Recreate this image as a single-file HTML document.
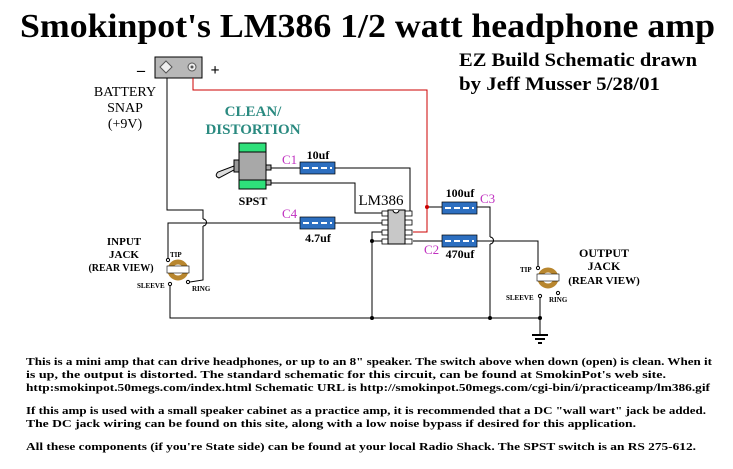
<!DOCTYPE html>
<html><head><meta charset="utf-8"><style>
html,body{margin:0;padding:0;background:#fff;}
svg{display:block;}
text{font-family:"Liberation Serif",serif;font-weight:bold;}
</style></head><body>
<svg width="733" height="469" viewBox="0 0 733 469" xmlns="http://www.w3.org/2000/svg">
<rect width="733" height="469" fill="#fff"/>
<text x="20" y="37" font-size="34" textLength="695" lengthAdjust="spacingAndGlyphs">Smokinpot's LM386 1/2 watt headphone amp</text>
<text x="459" y="66" font-size="19" textLength="238" lengthAdjust="spacingAndGlyphs">EZ Build Schematic drawn</text>
<text x="459" y="90" font-size="19" textLength="201" lengthAdjust="spacingAndGlyphs">by Jeff Musser 5/28/01</text>

<!-- battery -->
<text x="141" y="75" font-size="16" text-anchor="middle" font-family="Liberation Sans">–</text>
<text x="215" y="75" font-size="16" text-anchor="middle" font-family="Liberation Sans">+</text>
<rect x="155" y="57" width="47" height="21" fill="#b8b8b8" stroke="#000"/>
<polygon points="166,61 172,67 166,73 160,67" fill="#eee" stroke="#555"/>
<circle cx="192" cy="67" r="4" fill="#eee" stroke="#555"/><circle cx="192" cy="67" r="1.5" fill="#555"/>
<text x="125" y="96" font-size="14" text-anchor="middle" style="font-weight:normal">BATTERY</text>
<text x="125" y="112" font-size="14" text-anchor="middle" style="font-weight:normal">SNAP</text>
<text x="125" y="128" font-size="14" text-anchor="middle" style="font-weight:normal">(+9V)</text>
<text x="253" y="116" font-size="15" text-anchor="middle" fill="#2a8a80">CLEAN/</text>
<text x="253" y="134" font-size="15" text-anchor="middle" fill="#2a8a80">DISTORTION</text>

<g fill="none" stroke="#000" stroke-width="1">
<polyline points="167,78 167,210 203,210 203,219"/>
<path d="M203,219 a3,3 0 0 1 0,7"/>
<polyline points="203,226 203,280 190,282"/>
<polyline points="168,260 168,223 300,223"/>
<line x1="335" y1="223" x2="382" y2="223"/>
<line x1="269" y1="168" x2="300" y2="168"/>
<polyline points="335,168 410,168 410,213"/>
<polyline points="269,183 355,183 355,213 382,213"/>
<polyline points="382,232 372,232 372,318"/>
<line x1="372" y1="241" x2="382" y2="241"/>
<polyline points="170,285 170,318 540,318"/>
<line x1="540" y1="297" x2="540" y2="335"/>
<line x1="427" y1="207" x2="442" y2="207"/>
<polyline points="477,207 490,207 490,237"/>
<path d="M490,237 a3,3 0 0 1 0,7"/>
<line x1="490" y1="244" x2="490" y2="318"/>
<line x1="413" y1="241" x2="442" y2="241"/>
<polyline points="477,241 538,241 538,266"/>
</g>
<g stroke="#000" stroke-width="2">
<line x1="532" y1="335" x2="548" y2="335"/>
<line x1="535" y1="339" x2="545" y2="339"/>
<line x1="538" y1="343" x2="542" y2="343"/>
</g>
<polyline points="193,78 193,90 427,90 427,232 413,232" fill="none" stroke="#c00" stroke-width="1"/>
<circle cx="427" cy="207" r="2" fill="#c00"/>
<circle cx="372" cy="241" r="2"/><circle cx="372" cy="318" r="2"/>
<circle cx="490" cy="318" r="2"/><circle cx="540" cy="318" r="2"/>

<rect x="239" y="143" width="27" height="46" fill="#a8a8a8" stroke="#000"/>
<rect x="239" y="143" width="27" height="9" fill="#2ee07a" stroke="#000"/>
<rect x="239" y="180" width="27" height="9" fill="#2ee07a" stroke="#000"/>
<rect x="266" y="165" width="5" height="5" fill="#aaa" stroke="#000"/>
<rect x="266" y="180" width="5" height="5" fill="#aaa" stroke="#000"/>
<rect x="234" y="160" width="5" height="12" fill="#999" stroke="#000"/>
<path d="M234,166 L218,172 Q214,176 219,178 L234,170 Z" fill="#ddd" stroke="#000"/>
<text x="253" y="205" font-size="12" text-anchor="middle">SPST</text>

<g stroke="#000" stroke-width="0.7">
<rect x="300" y="162" width="35" height="12" fill="#2d6fc0"/>
<rect x="300" y="217" width="35" height="12" fill="#2d6fc0"/>
<rect x="442" y="202" width="35" height="12" fill="#2d6fc0"/>
<rect x="442" y="235" width="35" height="12" fill="#2d6fc0"/>
</g>
<g stroke="#fff" stroke-width="2" stroke-dasharray="6,3">
<line x1="303" y1="168" x2="332" y2="168"/><line x1="303" y1="223" x2="332" y2="223"/>
<line x1="445" y1="208" x2="474" y2="208"/><line x1="445" y1="241" x2="474" y2="241"/>
</g>
<text x="282" y="164" font-size="13" fill="#c030c0" style="font-weight:normal">C1</text>
<text x="318" y="159" font-size="12" text-anchor="middle">10uf</text>
<text x="282" y="218" font-size="13" fill="#c030c0" style="font-weight:normal">C4</text>
<text x="318" y="242" font-size="12" text-anchor="middle">4.7uf</text>
<text x="460" y="197" font-size="12" text-anchor="middle">100uf</text>
<text x="480" y="203" font-size="13" fill="#c030c0" style="font-weight:normal">C3</text>
<text x="424" y="254" font-size="13" fill="#c030c0" style="font-weight:normal">C2</text>
<text x="460" y="258" font-size="12" text-anchor="middle">470uf</text>

<text x="381" y="205" font-size="15" text-anchor="middle" style="font-weight:normal">LM386</text>
<g fill="#fff" stroke="#000" stroke-width="0.8">
<rect x="382" y="211" width="6" height="5"/><rect x="382" y="220" width="6" height="5"/>
<rect x="382" y="230" width="6" height="5"/><rect x="382" y="239" width="6" height="5"/>
<rect x="404" y="211" width="8" height="5"/><rect x="404" y="220" width="8" height="5"/>
<rect x="404" y="230" width="8" height="5"/><rect x="404" y="239" width="8" height="5"/>
</g>
<rect x="388" y="210" width="17" height="34" fill="#c8c8c8" stroke="#000"/>
<path d="M393,210 a3,3 0 0 0 6,0" fill="#fff" stroke="#000"/>

<text x="124" y="245" font-size="11" text-anchor="middle">INPUT</text>
<text x="124" y="258" font-size="11" text-anchor="middle">JACK</text>
<text x="121" y="271" font-size="10" text-anchor="middle">(REAR VIEW)</text>
<circle cx="178" cy="270" r="8" fill="none" stroke="#b8862e" stroke-width="5"/>
<rect x="167" y="266" width="22" height="7" fill="#fff" stroke="#000" stroke-width="0.6"/>
<circle cx="168" cy="260" r="1.6" fill="#fff" stroke="#000"/>
<circle cx="170" cy="284" r="1.6" fill="#fff" stroke="#000"/>
<circle cx="188" cy="282" r="1.6" fill="#fff" stroke="#000"/>
<text x="170" y="257" font-size="7" font-family="Liberation Sans">TIP</text>
<text x="137" y="288" font-size="7" font-family="Liberation Sans">SLEEVE</text>
<text x="192" y="291" font-size="7" font-family="Liberation Sans">RING</text>

<text x="604" y="257" font-size="12" text-anchor="middle">OUTPUT</text>
<text x="604" y="270" font-size="12" text-anchor="middle">JACK</text>
<text x="604" y="284" font-size="11" text-anchor="middle">(REAR VIEW)</text>
<circle cx="548" cy="278" r="8" fill="none" stroke="#b8862e" stroke-width="5"/>
<rect x="537" y="274" width="22" height="7" fill="#fff" stroke="#000" stroke-width="0.6"/>
<circle cx="538" cy="268" r="1.6" fill="#fff" stroke="#000"/>
<circle cx="540" cy="296" r="1.6" fill="#fff" stroke="#000"/>
<circle cx="558" cy="293" r="1.6" fill="#fff" stroke="#000"/>
<text x="520" y="272" font-size="7" font-family="Liberation Sans">TIP</text>
<text x="506" y="300" font-size="7" font-family="Liberation Sans">SLEEVE</text>
<text x="549" y="302" font-size="7" font-family="Liberation Sans">RING</text>

<g font-size="11">
<text x="26" y="365" textLength="686" lengthAdjust="spacingAndGlyphs">This is a mini amp that can drive headphones, or up to an 8" speaker. The switch above when down (open) is clean. When it</text>
<text x="26" y="378" textLength="640" lengthAdjust="spacingAndGlyphs">is up, the output is distorted. The standard schematic for this circuit, can be found at SmokinPot's web site.</text>
<text x="26" y="391" textLength="684" lengthAdjust="spacingAndGlyphs">http:smokinpot.50megs.com/index.html   Schematic URL is http://smokinpot.50megs.com/cgi-bin/i/practiceamp/lm386.gif</text>
<text x="26" y="414" textLength="680" lengthAdjust="spacingAndGlyphs">If this amp is used with a small speaker cabinet as a practice amp, it is recommended that a DC "wall wart" jack be added.</text>
<text x="26" y="427" textLength="610" lengthAdjust="spacingAndGlyphs">The DC jack wiring can be found on this site, along with a low noise bypass if desired for this application.</text>
<text x="26" y="450" textLength="670" lengthAdjust="spacingAndGlyphs">All these components (if you're State side) can be found at your local Radio Shack. The SPST switch is an RS 275-612.</text>
</g>
</svg>
</body></html>
